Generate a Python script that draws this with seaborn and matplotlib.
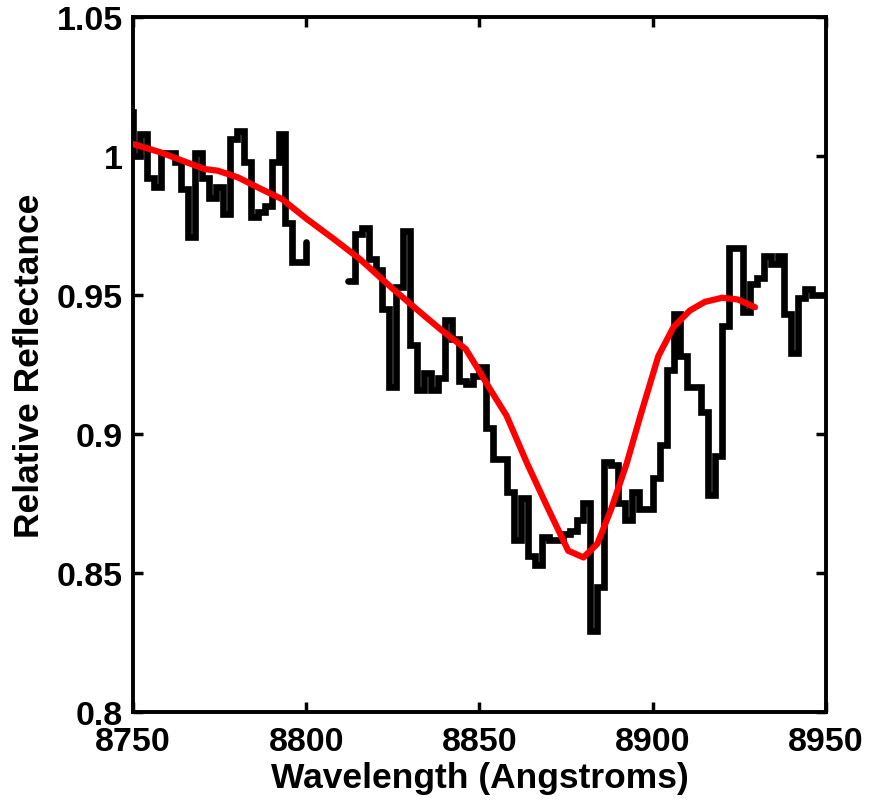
import pandas as pd
import seaborn as sns
from matplotlib import pyplot as plt

# Measured spectrum, 2 A bins (left edges); a gap between 8800 and 8812
wave_a = [8748, 8750, 8752, 8754, 8756, 8758, 8760, 8762, 8764, 8766,
          8768, 8770, 8772, 8774, 8776, 8778, 8780, 8782, 8784, 8786,
          8788, 8790, 8792, 8794, 8796, 8798, 8800]
refl_a = [1.016, 1.000, 1.008, 0.992, 0.989, 1.001, 1.001, 0.998, 0.988,
          0.971, 1.001, 0.992, 0.985, 0.989, 0.979, 1.006, 1.009, 0.998,
          0.978, 0.980, 0.982, 0.998, 1.008, 0.976, 0.962, 0.962, 0.969]

wave_b = [8812, 8814, 8816, 8818, 8820, 8822, 8824, 8826, 8828, 8830,
          8832, 8834, 8836, 8838, 8840, 8842, 8844, 8846, 8848, 8850,
          8852, 8854, 8856, 8858, 8860, 8862, 8864, 8866, 8868, 8870,
          8872, 8874, 8876, 8878, 8880, 8882, 8884, 8886, 8888, 8890,
          8892, 8894, 8896, 8898, 8900, 8902, 8904, 8906, 8908, 8910,
          8912, 8914, 8916, 8918, 8920, 8922, 8924, 8926, 8928, 8930,
          8932, 8934, 8936, 8938, 8940, 8942, 8944, 8946, 8948, 8950]
refl_b = [0.955, 0.972, 0.974, 0.963, 0.959, 0.945, 0.917, 0.953, 0.973,
          0.932, 0.916, 0.922, 0.916, 0.920, 0.941, 0.934, 0.919, 0.918,
          0.921, 0.924, 0.902, 0.891, 0.891, 0.879, 0.862, 0.877, 0.856,
          0.853, 0.863, 0.862, 0.862, 0.864, 0.865, 0.869, 0.875, 0.829,
          0.845, 0.890, 0.889, 0.875, 0.869, 0.879, 0.873, 0.873, 0.884,
          0.896, 0.923, 0.943, 0.928, 0.917, 0.917, 0.908, 0.878, 0.892,
          0.939, 0.967, 0.967, 0.944, 0.954, 0.956, 0.964, 0.961, 0.964,
          0.943, 0.929, 0.949, 0.952, 0.950, 0.950, 0.950]

# Model fit (red curve)
wave_fit = [8750, 8758, 8763, 8770.7, 8774.5, 8780.3, 8787, 8793, 8800,
            8808, 8815.5, 8825, 8834, 8838.6, 8846, 8850, 8853, 8857.8,
            8863.6, 8869.4, 8875.6, 8880, 8884, 8888, 8892.5, 8896.3,
            8901.6, 8906, 8910.7, 8915, 8920, 8924.5, 8929.5]
refl_fit = [1.0043, 1.0013, 0.9989, 0.9953, 0.9947, 0.9923, 0.9881, 0.9845,
            0.9775, 0.9701, 0.9629, 0.9522, 0.9426, 0.9378, 0.9306, 0.9225,
            0.9162, 0.9066, 0.8898, 0.8742, 0.8580, 0.8556, 0.8605, 0.8730,
            0.8895, 0.9060, 0.9280, 0.9385, 0.9444, 0.9475, 0.9490, 0.9484,
            0.9456]

xticks = [8750, 8800, 8850, 8900, 8950]
yticks = [0.8, 0.85, 0.9, 0.95, 1.0, 1.05]
ytick_labels = ['0.8', '0.85', '0.9', '0.95', '1', '1.05']

df_a = pd.DataFrame({'wave': wave_a, 'refl': refl_a})
df_b = pd.DataFrame({'wave': wave_b, 'refl': refl_b})
df_fit = pd.DataFrame({'wave': wave_fit, 'refl': refl_fit})

sns.set_style('ticks')
plt.rcParams['font.family'] = ['Liberation Sans', 'DejaVu Sans']
plt.rcParams['font.weight'] = 'bold'
for key in ['text.color', 'axes.labelcolor', 'xtick.color', 'ytick.color',
            'xtick.labelcolor', 'ytick.labelcolor']:
    plt.rcParams[key] = 'black'

fig = plt.figure(figsize=(8.73, 8.03), dpi=100)
ax = fig.add_axes([0.1523, 0.1121, 0.7939, 0.8655])

for part in [df_a, df_b]:
    sns.lineplot(data=part, x='wave', y='refl', ax=ax, color='black',
                 linewidth=4.8, drawstyle='steps-post', sort=False,
                 estimator=None, solid_joinstyle='miter', zorder=2)
sns.lineplot(data=df_fit, x='wave', y='refl', ax=ax, color='#ff0000',
             linewidth=4.5, sort=False, estimator=None, zorder=3)

ax.set_xlim(8750, 8950)
ax.set_ylim(0.8, 1.05)
ax.set_xticks(xticks)
ax.set_xticklabels([str(t) for t in xticks])
ax.set_yticks(yticks)
ax.set_yticklabels(ytick_labels)
ax.tick_params(direction='in', length=7, width=2.5, labelsize=24.5,
               top=True, right=True, colors='black')
ax.tick_params(axis='x', pad=10)
ax.tick_params(axis='y', pad=7)
for sp in ax.spines.values():
    sp.set_linewidth(2.8)
    sp.set_color('black')
ax.set_xlabel('Wavelength (Angstroms)', fontsize=25.5, fontweight='bold',
              labelpad=3, color='black')
ax.set_ylabel('Relative Reflectance', fontsize=25.5, fontweight='bold',
              labelpad=8, color='black')

plt.savefig('out.png', dpi=100)
plt.close()
